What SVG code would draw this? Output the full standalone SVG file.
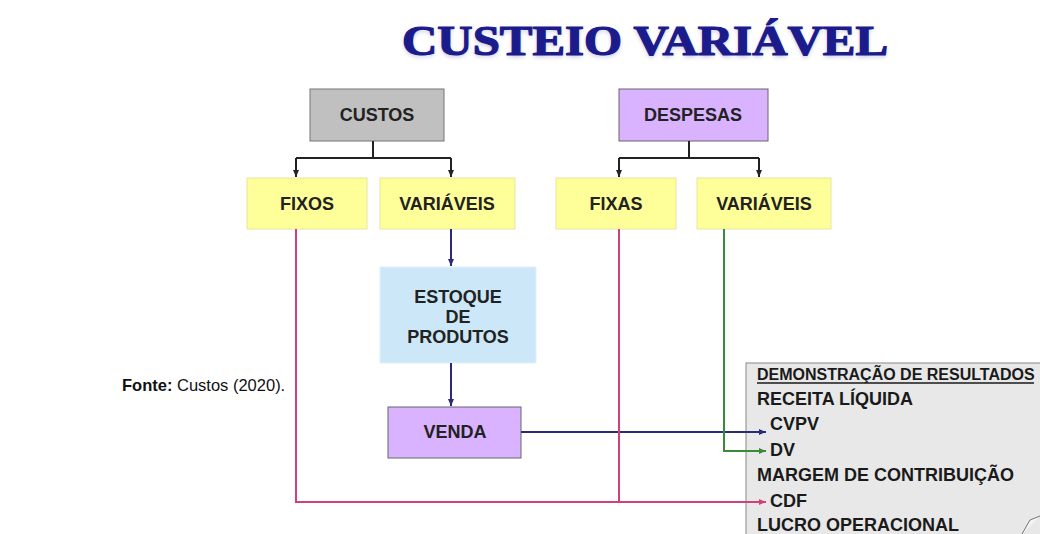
<svg xmlns="http://www.w3.org/2000/svg" width="1040" height="534" viewBox="0 0 1040 534">
<style>
.t{font-family:"Liberation Sans",Arial,sans-serif;font-weight:bold;font-size:18px;fill:#222;text-anchor:middle}
.dr{font-family:"Liberation Sans",Arial,sans-serif;font-weight:bold;font-size:18px;fill:#1a1a1a}
.drh{font-family:"Liberation Sans",Arial,sans-serif;font-weight:bold;font-size:16px;fill:#1a1a1a}
.yel{fill:#ffff99;stroke:#e6e6a0;stroke-width:1}
.lav{fill:#d9b3ff;stroke:#666;stroke-width:1}
.k{fill:none;stroke:#222;stroke-width:2}
.nv{fill:none;stroke:#2a2a7a;stroke-width:2}
.gr{fill:none;stroke:#3a8a3a;stroke-width:2}
.mg{fill:none;stroke:#d0407a;stroke-width:2}
</style>
<defs>
<marker id="ak" markerWidth="8" markerHeight="8" refX="7" refY="4" orient="auto" markerUnits="userSpaceOnUse"><path d="M0,1 L7,4 L0,7 Z" fill="#222"/></marker>
<marker id="an" markerWidth="8" markerHeight="8" refX="7" refY="4" orient="auto" markerUnits="userSpaceOnUse"><path d="M0,1 L7,4 L0,7 Z" fill="#2a2a7a"/></marker>
<marker id="ag" markerWidth="8" markerHeight="8" refX="7" refY="4" orient="auto" markerUnits="userSpaceOnUse"><path d="M0,1 L7,4 L0,7 Z" fill="#3a8a3a"/></marker>
<marker id="am" markerWidth="8" markerHeight="8" refX="7" refY="4" orient="auto" markerUnits="userSpaceOnUse"><path d="M0,1 L7,4 L0,7 Z" fill="#d0407a"/></marker>
<filter id="sh" x="-5%" y="-20%" width="110%" height="150%"><feGaussianBlur stdDeviation="2"/></filter>
</defs>
<rect width="1040" height="534" fill="#fff"/>
<g id="title">
<text x="645" y="57" text-anchor="middle" font-family="Liberation Serif,'Times New Roman',serif" font-weight="bold" font-size="42" fill="#9999cc" opacity="0.6" filter="url(#sh)" textLength="486" lengthAdjust="spacingAndGlyphs">CUSTEIO VARIÁVEL</text>
<text x="645" y="55" text-anchor="middle" font-family="Liberation Serif,'Times New Roman',serif" font-weight="bold" font-size="42" fill="#1b1b8c" stroke="#1b1b8c" stroke-width="1.2" textLength="486" lengthAdjust="spacingAndGlyphs">CUSTEIO VARIÁVEL</text>
</g>
<g id="custos"><rect x="310" y="89" width="134" height="52" fill="#c0c0c0" stroke="#777"/><text class="t" x="377" y="121">CUSTOS</text></g>
<g id="despesas"><rect class="lav" x="619" y="89" width="149" height="52"/><text class="t" x="693" y="121">DESPESAS</text></g>
<g id="fixos"><rect class="yel" x="247" y="178" width="120" height="51"/><text class="t" x="307" y="210">FIXOS</text></g>
<g id="variaveis-custos"><rect class="yel" x="380" y="178" width="135" height="51"/><text class="t" x="447" y="210">VARIÁVEIS</text></g>
<g id="fixas"><rect class="yel" x="556" y="178" width="120" height="51"/><text class="t" x="616" y="210">FIXAS</text></g>
<g id="variaveis-despesas"><rect class="yel" x="697" y="178" width="134" height="51"/><text class="t" x="764" y="210">VARIÁVEIS</text></g>
<g id="estoque"><rect x="380" y="267" width="156" height="96" fill="#cce8f8" stroke="#e0f0fa"/>
<text class="t" x="458" y="303">ESTOQUE</text><text class="t" x="458" y="323">DE</text><text class="t" x="458" y="343">PRODUTOS</text></g>
<g id="venda"><rect class="lav" x="388" y="407" width="133" height="51"/><text class="t" x="455" y="438">VENDA</text></g>
<g id="dre">
<rect x="746" y="363" width="300" height="180" fill="#e8e8e8" stroke="#888"/>
<text class="drh" x="757" y="380">DEMONSTRAÇÃO DE RESULTADOS</text>
<line x1="757" y1="383" x2="1034" y2="383" stroke="#1a1a1a" stroke-width="1.3"/>
<text class="dr" x="757" y="405">RECEITA LÍQUIDA</text>
<text class="dr" x="770" y="430">CVPV</text>
<text class="dr" x="770" y="456">DV</text>
<text class="dr" x="757" y="481">MARGEM DE CONTRIBUIÇÃO</text>
<text class="dr" x="770" y="507">CDF</text>
<text class="dr" x="757" y="531">LUCRO OPERACIONAL</text>
<path d="M1022,534 L1030,520 L1040,516" fill="#f4f4f4" stroke="#777"/>
</g>
<g id="connectors">
<path class="k" d="M373,141 V158 M296,158 H451"/>
<path class="k" d="M296,158 V177" marker-end="url(#ak)"/>
<path class="k" d="M451,158 V177" marker-end="url(#ak)"/>
<path class="k" d="M689,141 V158 M619,158 H759"/>
<path class="k" d="M619,158 V177" marker-end="url(#ak)"/>
<path class="k" d="M759,158 V177" marker-end="url(#ak)"/>
<path class="nv" d="M451,229 V266" marker-end="url(#an)"/>
<path class="nv" d="M451,363 V406" marker-end="url(#an)"/>
<path class="nv" d="M521,432 H766" marker-end="url(#an)"/>
<path class="gr" d="M724,229 V451 H766" marker-end="url(#ag)"/>
<path class="mg" d="M296,229 V502 H766" marker-end="url(#am)"/>
<path class="mg" d="M619,229 V502"/>
</g>
<g id="fonte"><text x="122" y="391" font-family="Liberation Sans,Arial,sans-serif" font-size="16.5" fill="#111"><tspan font-weight="bold">Fonte:</tspan> Custos (2020).</text></g>
</svg>
